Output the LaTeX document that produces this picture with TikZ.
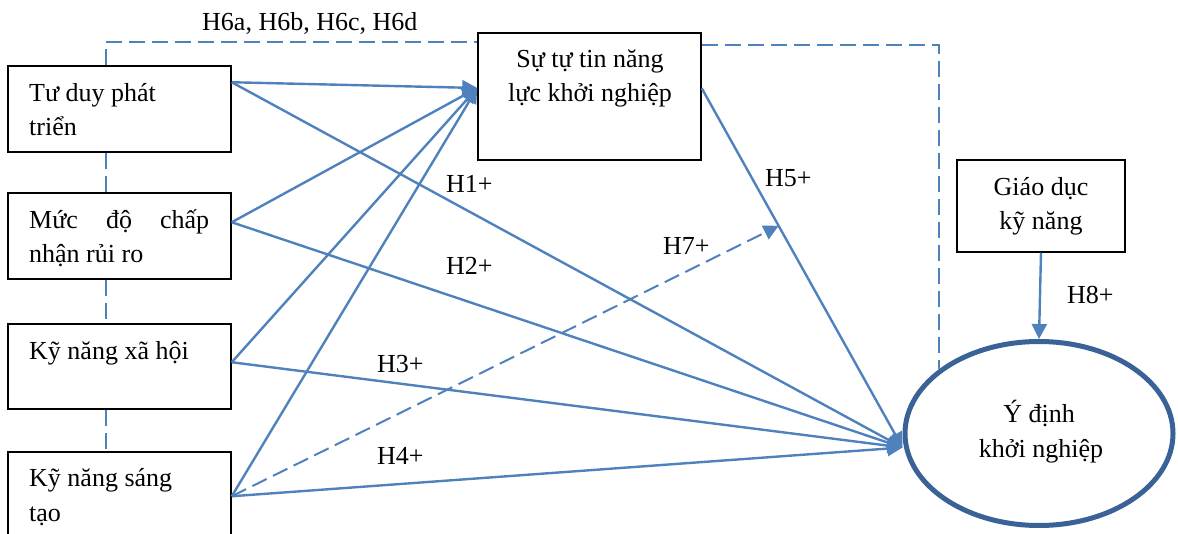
\documentclass[tikz,border=0pt]{standalone}
\usepackage{fontspec}
\setmainfont{Liberation Serif}
\usetikzlibrary{arrows.meta,calc,shapes.geometric}
\definecolor{linkblue}{HTML}{4F81BD}
\definecolor{ringblue}{HTML}{3B6296}

\begin{document}
\begin{tikzpicture}[x=1pt,y=-1pt,
  every node/.style={font=\fontsize{26}{33}\selectfont},
  box/.style={draw=black, line width=1.5pt, rectangle, inner sep=0pt, fill=white},
  lbl/.style={inner sep=0pt, anchor=base west},
  ctr/.style={inner sep=0pt, anchor=base},
  link/.style={draw=linkblue, line width=2.4pt, -{Triangle[length=15pt,width=15pt]}},
  tie/.style={draw=linkblue, line width=2pt, dash pattern=on 16pt off 7pt},
]
\useasboundingbox (0,0) rectangle (1178,534);

% ---- boxes ----
\node[box, minimum width=223pt, minimum height=86pt] (A) at (119.5,109) {};
\node[box, minimum width=223pt, minimum height=86pt] (B) at (119.5,236) {};
\node[box, minimum width=223pt, minimum height=85pt] (C) at (119.5,366.5) {};
\node[box, minimum width=223pt, minimum height=110pt] (D) at (119.5,507) {};
\node[box, minimum width=223pt, minimum height=127pt] (E) at (589.5,96.5) {};
\node[box, minimum width=168pt, minimum height=92pt] (F) at (1041,206) {};
\node[draw=ringblue, line width=5pt, ellipse, inner sep=0pt,
      minimum width=268pt, minimum height=184pt] (G) at (1039,433.5) {};

% ---- box texts ----
\node[lbl] (a1) at (29,102) {Tư duy phát};
\node[lbl] (a2) at (29,136) {triển};
\node[lbl] (b1) at (29,229) {\makebox[180pt][s]{Mức\hfill độ\hfill chấp}};
\node[lbl] (b2) at (29,263) {nhận rủi ro};
\node[lbl] (c1) at (29,360) {Kỹ năng xã hội};
\node[lbl] (d1) at (29,486) {Kỹ năng sáng};
\node[lbl] (d2) at (29,521) {tạo};
\node[ctr] (e1) at (590,68) {Sự tự tin năng};
\node[ctr] (e2) at (590,102) {lực khởi nghiệp};
\node[ctr] (f1) at (1041,196) {Giáo dục};
\node[ctr] (f2) at (1041,230) {kỹ năng};
\node[ctr] (g1) at (1039,423) {Ý định};
\node[ctr] (g2) at (1041,457) {khởi nghiệp};

% ---- connector ends ----
\coordinate (aOut) at ($(A.north east)+(0,17)$);
\coordinate (bOut) at ($(B.north east)+(0,30)$);
\coordinate (cOut) at ($(C.north east)+(0,39)$);
\coordinate (dOut) at ($(D.north east)+(0,45)$);
\coordinate (eIn)  at ($(E.west)+(0,-8.5)$);
\coordinate (eOut) at ($(E.north east)+(0,56)$);
\coordinate (gIn)  at ($(G.west)+(0,14)$);
\coordinate (h7)   at ($(eOut)!0.383!(gIn)$);

% ---- correlation (dashed) links ----
\draw[tie] ($(A.north west)+(99,0)$) |- ($(E.north west)+(0,10)$);
\draw[tie] ($(A.south west)+(99,0)$) -- ($(B.north west)+(99,0)$);
\draw[tie] ($(B.south west)+(99,0)$) -- ($(C.north west)+(99,0)$);
\draw[tie] ($(C.south west)+(99,0)$) -- ($(D.north west)+(99,0)$);
\draw[tie] ($(E.north east)+(0,13)$) -| (G.147);

% ---- paths into self-efficacy ----
\draw[link] (aOut) -- (eIn);
\draw[link] (bOut) -- (eIn);
\draw[link] (cOut) -- (eIn);
\draw[link] (dOut) -- (eIn);

% ---- paths into intention ----
\draw[link] (aOut) -- (gIn);
\draw[link] (bOut) -- (gIn);
\draw[link] (cOut) -- (gIn);
\draw[link] (dOut) -- (gIn);
\draw[link] (eOut) -- (gIn);
\draw[link] (F.south) -- (G.north);

% ---- moderation path ----
\draw[tie, -{Triangle[length=15pt,width=15pt]}] (dOut) -- (h7);

% ---- hypothesis labels ----
\node[lbl] (h6) at (202,31) {H6a, H6b, H6c, H6d};
\node[lbl] (l1) at (446,193) {H1+};
\node[lbl] (l2) at (446,275) {H2+};
\node[lbl] (l3) at (377,373) {H3+};
\node[lbl] (l4) at (377,464) {H4+};
\node[lbl] (l5) at (765,187) {H5+};
\node[lbl] (l7) at (663,255) {H7+};
\node[lbl] (l8) at (1067,304) {H8+};
\end{tikzpicture}
\end{document}
